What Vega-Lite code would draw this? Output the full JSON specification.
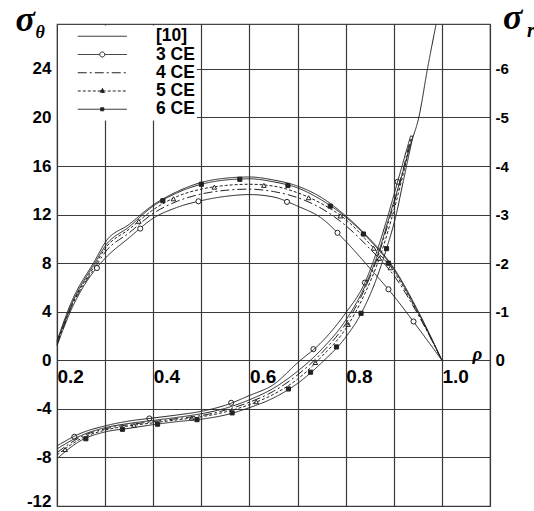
{
  "$schema": "https://vega.github.io/schema/vega-lite/v6.json",
  "width": 433,
  "height": 482,
  "autosize": {"type": "none"},
  "padding": {"left": 57, "top": 24, "right": 44, "bottom": 5},
  "background": "white",
  "config": {
    "view": {"stroke": "#444", "strokeWidth": 1.2},
    "axis": {
      "labelFont": "Liberation Sans", "labelFontWeight": "bold", "labelColor": "black",
      "ticks": false, "domain": false, "gridColor": "#3a3a3a", "gridWidth": 1.2, "gridOpacity": 1,
      "titleColor": "black", "titleFont": "Liberation Serif", "titleFontStyle": "italic",
      "titleFontWeight": "bold", "titleAngle": 0, "titlePadding": 0, "labelOverlap": false
    }
  },
  "datasets": {
    "lines": [
      {"curve": "arch", "series": "[10]", "rho": 0.2, "sigma": 1.6},
      {"curve": "arch", "series": "[10]", "rho": 0.23, "sigma": 4.8},
      {"curve": "arch", "series": "[10]", "rho": 0.28, "sigma": 8.3},
      {"curve": "arch", "series": "[10]", "rho": 0.3, "sigma": 9.7},
      {"curve": "arch", "series": "[10]", "rho": 0.35, "sigma": 11.2},
      {"curve": "arch", "series": "[10]", "rho": 0.4, "sigma": 12.8},
      {"curve": "arch", "series": "[10]", "rho": 0.45, "sigma": 13.9},
      {"curve": "arch", "series": "[10]", "rho": 0.5, "sigma": 14.65},
      {"curve": "arch", "series": "[10]", "rho": 0.55, "sigma": 15.0},
      {"curve": "arch", "series": "[10]", "rho": 0.6, "sigma": 15.1},
      {"curve": "arch", "series": "[10]", "rho": 0.65, "sigma": 14.85},
      {"curve": "arch", "series": "[10]", "rho": 0.7, "sigma": 14.35},
      {"curve": "arch", "series": "[10]", "rho": 0.75, "sigma": 13.4},
      {"curve": "arch", "series": "[10]", "rho": 0.8, "sigma": 11.9},
      {"curve": "arch", "series": "[10]", "rho": 0.85, "sigma": 10.0},
      {"curve": "arch", "series": "[10]", "rho": 0.9, "sigma": 7.6},
      {"curve": "arch", "series": "[10]", "rho": 0.95, "sigma": 4.1},
      {"curve": "arch", "series": "[10]", "rho": 1.0, "sigma": 0},
      {"curve": "arch", "series": "3 CE", "rho": 0.2, "sigma": 1.2},
      {"curve": "arch", "series": "3 CE", "rho": 0.23, "sigma": 4.2},
      {"curve": "arch", "series": "3 CE", "rho": 0.28, "sigma": 7.5},
      {"curve": "arch", "series": "3 CE", "rho": 0.3, "sigma": 8.4},
      {"curve": "arch", "series": "3 CE", "rho": 0.35, "sigma": 10.1},
      {"curve": "arch", "series": "3 CE", "rho": 0.4, "sigma": 11.7},
      {"curve": "arch", "series": "3 CE", "rho": 0.45, "sigma": 12.6},
      {"curve": "arch", "series": "3 CE", "rho": 0.5, "sigma": 13.15},
      {"curve": "arch", "series": "3 CE", "rho": 0.55, "sigma": 13.5},
      {"curve": "arch", "series": "3 CE", "rho": 0.6, "sigma": 13.65},
      {"curve": "arch", "series": "3 CE", "rho": 0.65, "sigma": 13.45},
      {"curve": "arch", "series": "3 CE", "rho": 0.7, "sigma": 12.7},
      {"curve": "arch", "series": "3 CE", "rho": 0.75, "sigma": 11.7},
      {"curve": "arch", "series": "3 CE", "rho": 0.8, "sigma": 9.8},
      {"curve": "arch", "series": "3 CE", "rho": 0.85, "sigma": 7.6},
      {"curve": "arch", "series": "3 CE", "rho": 0.9, "sigma": 5.3},
      {"curve": "arch", "series": "3 CE", "rho": 0.95, "sigma": 2.7},
      {"curve": "arch", "series": "3 CE", "rho": 1.0, "sigma": 0},
      {"curve": "arch", "series": "4 CE", "rho": 0.2, "sigma": 1.3},
      {"curve": "arch", "series": "4 CE", "rho": 0.23, "sigma": 4.4},
      {"curve": "arch", "series": "4 CE", "rho": 0.28, "sigma": 7.7},
      {"curve": "arch", "series": "4 CE", "rho": 0.3, "sigma": 8.9},
      {"curve": "arch", "series": "4 CE", "rho": 0.35, "sigma": 10.5},
      {"curve": "arch", "series": "4 CE", "rho": 0.4, "sigma": 12.1},
      {"curve": "arch", "series": "4 CE", "rho": 0.45, "sigma": 13.1},
      {"curve": "arch", "series": "4 CE", "rho": 0.5, "sigma": 13.7},
      {"curve": "arch", "series": "4 CE", "rho": 0.55, "sigma": 14.0},
      {"curve": "arch", "series": "4 CE", "rho": 0.6, "sigma": 14.1},
      {"curve": "arch", "series": "4 CE", "rho": 0.65, "sigma": 13.9},
      {"curve": "arch", "series": "4 CE", "rho": 0.7, "sigma": 13.4},
      {"curve": "arch", "series": "4 CE", "rho": 0.75, "sigma": 12.5},
      {"curve": "arch", "series": "4 CE", "rho": 0.8, "sigma": 11.1},
      {"curve": "arch", "series": "4 CE", "rho": 0.85, "sigma": 9.2},
      {"curve": "arch", "series": "4 CE", "rho": 0.9, "sigma": 7.0},
      {"curve": "arch", "series": "4 CE", "rho": 0.95, "sigma": 3.8},
      {"curve": "arch", "series": "4 CE", "rho": 1.0, "sigma": 0},
      {"curve": "arch", "series": "5 CE", "rho": 0.2, "sigma": 1.4},
      {"curve": "arch", "series": "5 CE", "rho": 0.23, "sigma": 4.5},
      {"curve": "arch", "series": "5 CE", "rho": 0.28, "sigma": 7.9},
      {"curve": "arch", "series": "5 CE", "rho": 0.3, "sigma": 9.2},
      {"curve": "arch", "series": "5 CE", "rho": 0.35, "sigma": 10.8},
      {"curve": "arch", "series": "5 CE", "rho": 0.4, "sigma": 12.4},
      {"curve": "arch", "series": "5 CE", "rho": 0.45, "sigma": 13.5},
      {"curve": "arch", "series": "5 CE", "rho": 0.5, "sigma": 14.1},
      {"curve": "arch", "series": "5 CE", "rho": 0.55, "sigma": 14.4},
      {"curve": "arch", "series": "5 CE", "rho": 0.6, "sigma": 14.5},
      {"curve": "arch", "series": "5 CE", "rho": 0.65, "sigma": 14.35},
      {"curve": "arch", "series": "5 CE", "rho": 0.7, "sigma": 13.8},
      {"curve": "arch", "series": "5 CE", "rho": 0.75, "sigma": 12.9},
      {"curve": "arch", "series": "5 CE", "rho": 0.8, "sigma": 11.6},
      {"curve": "arch", "series": "5 CE", "rho": 0.85, "sigma": 9.6},
      {"curve": "arch", "series": "5 CE", "rho": 0.9, "sigma": 7.3},
      {"curve": "arch", "series": "5 CE", "rho": 0.95, "sigma": 3.9},
      {"curve": "arch", "series": "5 CE", "rho": 1.0, "sigma": 0},
      {"curve": "arch", "series": "6 CE", "rho": 0.2, "sigma": 1.5},
      {"curve": "arch", "series": "6 CE", "rho": 0.23, "sigma": 4.6},
      {"curve": "arch", "series": "6 CE", "rho": 0.28, "sigma": 8.1},
      {"curve": "arch", "series": "6 CE", "rho": 0.3, "sigma": 9.4},
      {"curve": "arch", "series": "6 CE", "rho": 0.35, "sigma": 11.0},
      {"curve": "arch", "series": "6 CE", "rho": 0.4, "sigma": 12.7},
      {"curve": "arch", "series": "6 CE", "rho": 0.45, "sigma": 13.8},
      {"curve": "arch", "series": "6 CE", "rho": 0.5, "sigma": 14.5},
      {"curve": "arch", "series": "6 CE", "rho": 0.55, "sigma": 14.85},
      {"curve": "arch", "series": "6 CE", "rho": 0.6, "sigma": 14.95},
      {"curve": "arch", "series": "6 CE", "rho": 0.65, "sigma": 14.7},
      {"curve": "arch", "series": "6 CE", "rho": 0.7, "sigma": 14.2},
      {"curve": "arch", "series": "6 CE", "rho": 0.75, "sigma": 13.2},
      {"curve": "arch", "series": "6 CE", "rho": 0.8, "sigma": 11.8},
      {"curve": "arch", "series": "6 CE", "rho": 0.85, "sigma": 9.9},
      {"curve": "arch", "series": "6 CE", "rho": 0.9, "sigma": 7.5},
      {"curve": "arch", "series": "6 CE", "rho": 0.95, "sigma": 4.0},
      {"curve": "arch", "series": "6 CE", "rho": 1.0, "sigma": 0},
      {"curve": "rise", "series": "[10]", "rho": 0.2, "sigma": -7.3},
      {"curve": "rise", "series": "[10]", "rho": 0.25, "sigma": -6.2},
      {"curve": "rise", "series": "[10]", "rho": 0.3, "sigma": -5.55},
      {"curve": "rise", "series": "[10]", "rho": 0.35, "sigma": -5.2},
      {"curve": "rise", "series": "[10]", "rho": 0.4, "sigma": -4.95},
      {"curve": "rise", "series": "[10]", "rho": 0.45, "sigma": -4.7},
      {"curve": "rise", "series": "[10]", "rho": 0.5, "sigma": -4.4},
      {"curve": "rise", "series": "[10]", "rho": 0.55, "sigma": -3.95},
      {"curve": "rise", "series": "[10]", "rho": 0.6, "sigma": -3.25},
      {"curve": "rise", "series": "[10]", "rho": 0.65, "sigma": -2.3},
      {"curve": "rise", "series": "[10]", "rho": 0.7, "sigma": -0.9},
      {"curve": "rise", "series": "[10]", "rho": 0.75, "sigma": 0.9},
      {"curve": "rise", "series": "[10]", "rho": 0.8, "sigma": 3.3},
      {"curve": "rise", "series": "[10]", "rho": 0.84, "sigma": 6.1},
      {"curve": "rise", "series": "[10]", "rho": 0.87, "sigma": 9.1},
      {"curve": "rise", "series": "[10]", "rho": 0.892, "sigma": 12.0},
      {"curve": "rise", "series": "[10]", "rho": 0.915, "sigma": 15.0},
      {"curve": "rise", "series": "[10]", "rho": 0.935, "sigma": 17.8},
      {"curve": "rise", "series": "[10]", "rho": 0.952, "sigma": 20.0},
      {"curve": "rise", "series": "[10]", "rho": 0.97, "sigma": 24.0},
      {"curve": "rise", "series": "[10]", "rho": 0.988, "sigma": 27.7},
      {"curve": "rise", "series": "3 CE", "rho": 0.2, "sigma": -7.05},
      {"curve": "rise", "series": "3 CE", "rho": 0.25, "sigma": -6.0},
      {"curve": "rise", "series": "3 CE", "rho": 0.3, "sigma": -5.4},
      {"curve": "rise", "series": "3 CE", "rho": 0.35, "sigma": -5.0},
      {"curve": "rise", "series": "3 CE", "rho": 0.4, "sigma": -4.75},
      {"curve": "rise", "series": "3 CE", "rho": 0.45, "sigma": -4.5},
      {"curve": "rise", "series": "3 CE", "rho": 0.5, "sigma": -4.2},
      {"curve": "rise", "series": "3 CE", "rho": 0.55, "sigma": -3.7},
      {"curve": "rise", "series": "3 CE", "rho": 0.6, "sigma": -2.9},
      {"curve": "rise", "series": "3 CE", "rho": 0.65, "sigma": -2.0},
      {"curve": "rise", "series": "3 CE", "rho": 0.7, "sigma": -0.2},
      {"curve": "rise", "series": "3 CE", "rho": 0.75, "sigma": 1.5},
      {"curve": "rise", "series": "3 CE", "rho": 0.8, "sigma": 3.9},
      {"curve": "rise", "series": "3 CE", "rho": 0.84, "sigma": 6.4},
      {"curve": "rise", "series": "3 CE", "rho": 0.87, "sigma": 9.6},
      {"curve": "rise", "series": "3 CE", "rho": 0.89, "sigma": 12.2},
      {"curve": "rise", "series": "3 CE", "rho": 0.91, "sigma": 15.0},
      {"curve": "rise", "series": "3 CE", "rho": 0.935, "sigma": 18.5},
      {"curve": "rise", "series": "4 CE", "rho": 0.2, "sigma": -7.6},
      {"curve": "rise", "series": "4 CE", "rho": 0.25, "sigma": -6.3},
      {"curve": "rise", "series": "4 CE", "rho": 0.3, "sigma": -5.65},
      {"curve": "rise", "series": "4 CE", "rho": 0.35, "sigma": -5.3},
      {"curve": "rise", "series": "4 CE", "rho": 0.4, "sigma": -5.05},
      {"curve": "rise", "series": "4 CE", "rho": 0.45, "sigma": -4.8},
      {"curve": "rise", "series": "4 CE", "rho": 0.5, "sigma": -4.55},
      {"curve": "rise", "series": "4 CE", "rho": 0.55, "sigma": -4.1},
      {"curve": "rise", "series": "4 CE", "rho": 0.6, "sigma": -3.45},
      {"curve": "rise", "series": "4 CE", "rho": 0.65, "sigma": -2.55},
      {"curve": "rise", "series": "4 CE", "rho": 0.7, "sigma": -1.2},
      {"curve": "rise", "series": "4 CE", "rho": 0.75, "sigma": 0.6},
      {"curve": "rise", "series": "4 CE", "rho": 0.8, "sigma": 3.0},
      {"curve": "rise", "series": "4 CE", "rho": 0.84, "sigma": 5.9},
      {"curve": "rise", "series": "4 CE", "rho": 0.87, "sigma": 8.9},
      {"curve": "rise", "series": "4 CE", "rho": 0.893, "sigma": 11.9},
      {"curve": "rise", "series": "4 CE", "rho": 0.913, "sigma": 14.7},
      {"curve": "rise", "series": "4 CE", "rho": 0.936, "sigma": 18.5},
      {"curve": "rise", "series": "5 CE", "rho": 0.2, "sigma": -7.8},
      {"curve": "rise", "series": "5 CE", "rho": 0.25, "sigma": -6.45},
      {"curve": "rise", "series": "5 CE", "rho": 0.3, "sigma": -5.75},
      {"curve": "rise", "series": "5 CE", "rho": 0.35, "sigma": -5.4},
      {"curve": "rise", "series": "5 CE", "rho": 0.4, "sigma": -5.15},
      {"curve": "rise", "series": "5 CE", "rho": 0.45, "sigma": -4.9},
      {"curve": "rise", "series": "5 CE", "rho": 0.5, "sigma": -4.65},
      {"curve": "rise", "series": "5 CE", "rho": 0.55, "sigma": -4.25},
      {"curve": "rise", "series": "5 CE", "rho": 0.6, "sigma": -3.65},
      {"curve": "rise", "series": "5 CE", "rho": 0.65, "sigma": -2.8},
      {"curve": "rise", "series": "5 CE", "rho": 0.7, "sigma": -1.55},
      {"curve": "rise", "series": "5 CE", "rho": 0.75, "sigma": 0.3},
      {"curve": "rise", "series": "5 CE", "rho": 0.8, "sigma": 2.6},
      {"curve": "rise", "series": "5 CE", "rho": 0.84, "sigma": 5.5},
      {"curve": "rise", "series": "5 CE", "rho": 0.87, "sigma": 8.4},
      {"curve": "rise", "series": "5 CE", "rho": 0.895, "sigma": 11.6},
      {"curve": "rise", "series": "5 CE", "rho": 0.915, "sigma": 14.6},
      {"curve": "rise", "series": "5 CE", "rho": 0.938, "sigma": 18.5},
      {"curve": "rise", "series": "6 CE", "rho": 0.2, "sigma": -8.1},
      {"curve": "rise", "series": "6 CE", "rho": 0.25, "sigma": -6.6},
      {"curve": "rise", "series": "6 CE", "rho": 0.3, "sigma": -5.9},
      {"curve": "rise", "series": "6 CE", "rho": 0.35, "sigma": -5.6},
      {"curve": "rise", "series": "6 CE", "rho": 0.4, "sigma": -5.3},
      {"curve": "rise", "series": "6 CE", "rho": 0.45, "sigma": -5.05},
      {"curve": "rise", "series": "6 CE", "rho": 0.5, "sigma": -4.85},
      {"curve": "rise", "series": "6 CE", "rho": 0.55, "sigma": -4.5},
      {"curve": "rise", "series": "6 CE", "rho": 0.6, "sigma": -3.9},
      {"curve": "rise", "series": "6 CE", "rho": 0.65, "sigma": -3.1},
      {"curve": "rise", "series": "6 CE", "rho": 0.7, "sigma": -1.9},
      {"curve": "rise", "series": "6 CE", "rho": 0.75, "sigma": -0.2},
      {"curve": "rise", "series": "6 CE", "rho": 0.8, "sigma": 1.9},
      {"curve": "rise", "series": "6 CE", "rho": 0.83, "sigma": 3.7},
      {"curve": "rise", "series": "6 CE", "rho": 0.86, "sigma": 6.3},
      {"curve": "rise", "series": "6 CE", "rho": 0.885, "sigma": 9.2},
      {"curve": "rise", "series": "6 CE", "rho": 0.905, "sigma": 12.0},
      {"curve": "rise", "series": "6 CE", "rho": 0.92, "sigma": 14.8},
      {"curve": "rise", "series": "6 CE", "rho": 0.94, "sigma": 18.5}
    ],
    "markers": [
      {"series": "3 CE", "rho": 0.283, "sigma": 7.6},
      {"series": "3 CE", "rho": 0.373, "sigma": 10.85},
      {"series": "3 CE", "rho": 0.494, "sigma": 13.1},
      {"series": "3 CE", "rho": 0.678, "sigma": 13.05},
      {"series": "3 CE", "rho": 0.783, "sigma": 10.5},
      {"series": "3 CE", "rho": 0.889, "sigma": 5.85},
      {"series": "3 CE", "rho": 0.941, "sigma": 3.2},
      {"series": "5 CE", "rho": 0.37, "sigma": 11.45},
      {"series": "5 CE", "rho": 0.442, "sigma": 13.3},
      {"series": "5 CE", "rho": 0.527, "sigma": 14.26},
      {"series": "5 CE", "rho": 0.63, "sigma": 14.41},
      {"series": "5 CE", "rho": 0.723, "sigma": 13.39},
      {"series": "5 CE", "rho": 0.789, "sigma": 11.89},
      {"series": "5 CE", "rho": 0.858, "sigma": 9.23},
      {"series": "5 CE", "rho": 0.893, "sigma": 7.62},
      {"series": "6 CE", "rho": 0.42, "sigma": 13.14},
      {"series": "6 CE", "rho": 0.5, "sigma": 14.5},
      {"series": "6 CE", "rho": 0.58, "sigma": 14.91},
      {"series": "6 CE", "rho": 0.68, "sigma": 14.4},
      {"series": "6 CE", "rho": 0.768, "sigma": 12.7},
      {"series": "6 CE", "rho": 0.837, "sigma": 10.4},
      {"series": "6 CE", "rho": 0.889, "sigma": 8.0},
      {"series": "3 CE", "rho": 0.236, "sigma": -6.3},
      {"series": "3 CE", "rho": 0.392, "sigma": -4.79},
      {"series": "3 CE", "rho": 0.562, "sigma": -3.5},
      {"series": "3 CE", "rho": 0.733, "sigma": 0.92},
      {"series": "3 CE", "rho": 0.84, "sigma": 6.4},
      {"series": "3 CE", "rho": 0.908, "sigma": 14.7},
      {"series": "5 CE", "rho": 0.217, "sigma": -7.35},
      {"series": "5 CE", "rho": 0.36, "sigma": -5.35},
      {"series": "5 CE", "rho": 0.48, "sigma": -4.75},
      {"series": "5 CE", "rho": 0.614, "sigma": -3.41},
      {"series": "5 CE", "rho": 0.737, "sigma": -0.18},
      {"series": "5 CE", "rho": 0.805, "sigma": 2.96},
      {"series": "5 CE", "rho": 0.87, "sigma": 8.4},
      {"series": "6 CE", "rho": 0.26, "sigma": -6.46},
      {"series": "6 CE", "rho": 0.336, "sigma": -5.68},
      {"series": "6 CE", "rho": 0.409, "sigma": -5.26},
      {"series": "6 CE", "rho": 0.491, "sigma": -4.89},
      {"series": "6 CE", "rho": 0.564, "sigma": -4.33},
      {"series": "6 CE", "rho": 0.681, "sigma": -2.36},
      {"series": "6 CE", "rho": 0.727, "sigma": -0.98},
      {"series": "6 CE", "rho": 0.781, "sigma": 1.1},
      {"series": "6 CE", "rho": 0.832, "sigma": 3.87},
      {"series": "6 CE", "rho": 0.885, "sigma": 9.2}
    ]
  },
  "layer": [
    {
      "data": {"name": "lines"},
      "transform": [{"filter": "datum.curve == 'arch'"}],
      "mark": {"type": "line", "interpolate": "monotone", "strokeWidth": 1, "color": "#222"},
      "encoding": {
        "x": {"field": "rho", "type": "quantitative",
          "scale": {"domain": [0.2, 1.1], "nice": false, "zero": false},
          "axis": {"orient": "bottom", "offset": -145.7,
            "values": [0.2, 0.3, 0.4, 0.5, 0.6, 0.7, 0.8, 0.9, 1.0, 1.1],
            "grid": true,
            "labelExpr": "indexof(['0.2','0.4','0.6','0.8','1.0'], format(datum.value, '.1f')) >= 0 ? format(datum.value, '.1f') : ''",
            "labelAlign": "left", "labelBaseline": "top", "labelDx": 3.5, "labelPadding": 7, "labelFontSize": 19,
            "title": "ρ", "titleFontSize": 19, "titleX": 415, "titleY": -1, "titleAlign": "left", "titleBaseline": "alphabetic"}},
        "y": {"field": "sigma", "type": "quantitative",
          "scale": {"domain": [-12, 27.7], "nice": false, "zero": false},
          "axis": {"orient": "left", "values": [-12, -8, -4, 0, 4, 8, 12, 16, 20, 24],
            "grid": true, "labelExpr": "toString(datum.value)", "labelFontSize": 17, "labelPadding": 6,
            "labelFlush": true, "labelFlushOffset": 4,
            "title": "σ", "titleFontSize": 36, "titleX": -42, "titleY": 6, "titleAlign": "left", "titleBaseline": "alphabetic"}},
        "strokeDash": {"field": "series", "type": "nominal",
          "scale": {"domain": ["[10]", "3 CE", "4 CE", "5 CE", "6 CE"], "range": [[1, 0], [1, 0], [9, 3, 2, 3], [3, 2], [1, 0]]},
          "legend": {
            "orient": "none", "legendX": 1, "legendY": 1.5, "title": null,
            "fillColor": "white", "padding": 2, "rowPadding": -0.75,
            "symbolSize": 196, "symbolStrokeWidth": 1, "symbolStrokeColor": "#222", "symbolOffset": 33.5,
            "labelOffset": 45, "labelFont": "Liberation Sans", "labelFontWeight": "bold", "labelFontSize": 17.5,
            "labelColor": "black", "labelLimit": 400,
            "labelExpr": "datum.label + '                    '",
            "encode": {"symbols": {"update": {
              "shape": {"signal": "datum.value == '3 CE' ? 'M-3.5,0H-0.36M0.36,0H3.5M-0.36,0A0.36,0.36,0,1,1,0.36,0A0.36,0.36,0,1,1,-0.36,0' : datum.value == '5 CE' ? 'M-3.5,0H3.5M0,-0.4L0.34,0.22L-0.34,0.22Z' : datum.value == '6 CE' ? 'M-3.5,0H3.5M-0.22,-0.22H0.22V0.22H-0.22Z' : 'M-3.5,0H3.5'"},
              "fill": {"signal": "datum.value == '5 CE' || datum.value == '6 CE' ? '#222' : 'transparent'"},
              "stroke": {"value": "#222"},
              "strokeWidth": {"value": 1}
            }}}
          }}
      }
    },
    {
      "data": {"name": "markers"},
      "mark": {"type": "point", "stroke": "#222", "strokeWidth": 1, "opacity": 1},
      "encoding": {
        "x": {"field": "rho", "type": "quantitative",
          "scale": {"domain": [0.2, 1.1], "nice": false, "zero": false},
          "axis": {"orient": "top", "grid": false, "labels": false, "ticks": false, "domain": false,
            "title": "θ", "titleFontSize": 18, "titleX": -22, "titleY": 13, "titleAlign": "left", "titleBaseline": "alphabetic"}},
        "y": {"field": "sigma", "type": "quantitative",
          "scale": {"domain": [-12, 27.7], "nice": false, "zero": false},
          "axis": {"orient": "right", "values": [0, 4, 8, 12, 16, 20, 24], "grid": false,
            "labelExpr": "datum.value == 0 ? '0' : toString(-datum.value / 4)",
            "labelFont": {"condition": {"test": "datum.value == 0", "value": "Liberation Sans"}, "value": "Liberation Sans Narrow, Liberation Sans"},
            "labelFontSize": {"condition": {"test": "datum.value == 0", "value": 17}, "value": 15},
            "labelPadding": 5,
            "title": "σ", "titleFontSize": 36, "titleX": 12.5, "titleY": 4.5, "titleAlign": "left", "titleBaseline": "alphabetic"}},
        "shape": {"field": "series", "type": "nominal",
          "scale": {"domain": ["3 CE", "5 CE", "6 CE"], "range": ["circle", "triangle-up", "square"]}, "legend": null},
        "fill": {"field": "series", "type": "nominal",
          "scale": {"domain": ["3 CE", "5 CE", "6 CE"], "range": ["white", "white", "#222"]}, "legend": null},
        "size": {"field": "series", "type": "nominal",
          "scale": {"domain": ["3 CE", "5 CE", "6 CE"], "range": [26, 17, 4]}, "legend": null}
      }
    },
    {
      "data": {"name": "lines"},
      "transform": [{"filter": "datum.curve == 'rise'"}],
      "mark": {"type": "line", "interpolate": "monotone", "strokeWidth": 1, "color": "#222"},
      "encoding": {
        "x": {"field": "rho", "type": "quantitative",
          "scale": {"domain": [0.2, 1.1], "nice": false, "zero": false}, "axis": null},
        "y": {"field": "sigma", "type": "quantitative",
          "scale": {"domain": [-12, 27.7], "nice": false, "zero": false},
          "axis": {"orient": "right", "labels": false, "grid": false, "ticks": false, "domain": false,
            "title": "r", "titleFontSize": 20, "titleX": 36.5, "titleY": 12, "titleAlign": "left", "titleBaseline": "alphabetic"}},
        "strokeDash": {"field": "series", "type": "nominal",
          "scale": {"domain": ["[10]", "3 CE", "4 CE", "5 CE", "6 CE"], "range": [[1, 0], [1, 0], [9, 3, 2, 3], [3, 2], [1, 0]]},
          "legend": {
            "orient": "none", "legendX": 1, "legendY": 1.5, "title": null,
            "fillColor": "white", "padding": 2, "rowPadding": -0.75,
            "symbolSize": 196, "symbolStrokeWidth": 1, "symbolStrokeColor": "#222", "symbolOffset": 33.5,
            "labelOffset": 45, "labelFont": "Liberation Sans", "labelFontWeight": "bold", "labelFontSize": 17.5,
            "labelColor": "black", "labelLimit": 400,
            "labelExpr": "datum.label + '                    '",
            "encode": {"symbols": {"update": {
              "shape": {"signal": "datum.value == '3 CE' ? 'M-3.5,0H-0.36M0.36,0H3.5M-0.36,0A0.36,0.36,0,1,1,0.36,0A0.36,0.36,0,1,1,-0.36,0' : datum.value == '5 CE' ? 'M-3.5,0H3.5M0,-0.4L0.34,0.22L-0.34,0.22Z' : datum.value == '6 CE' ? 'M-3.5,0H3.5M-0.22,-0.22H0.22V0.22H-0.22Z' : 'M-3.5,0H3.5'"},
              "fill": {"signal": "datum.value == '5 CE' || datum.value == '6 CE' ? '#222' : 'transparent'"},
              "stroke": {"value": "#222"},
              "strokeWidth": {"value": 1}
            }}}
          }}
      }
    }
  ],
  "resolve": {"axis": {"x": "independent", "y": "independent"}}
}
